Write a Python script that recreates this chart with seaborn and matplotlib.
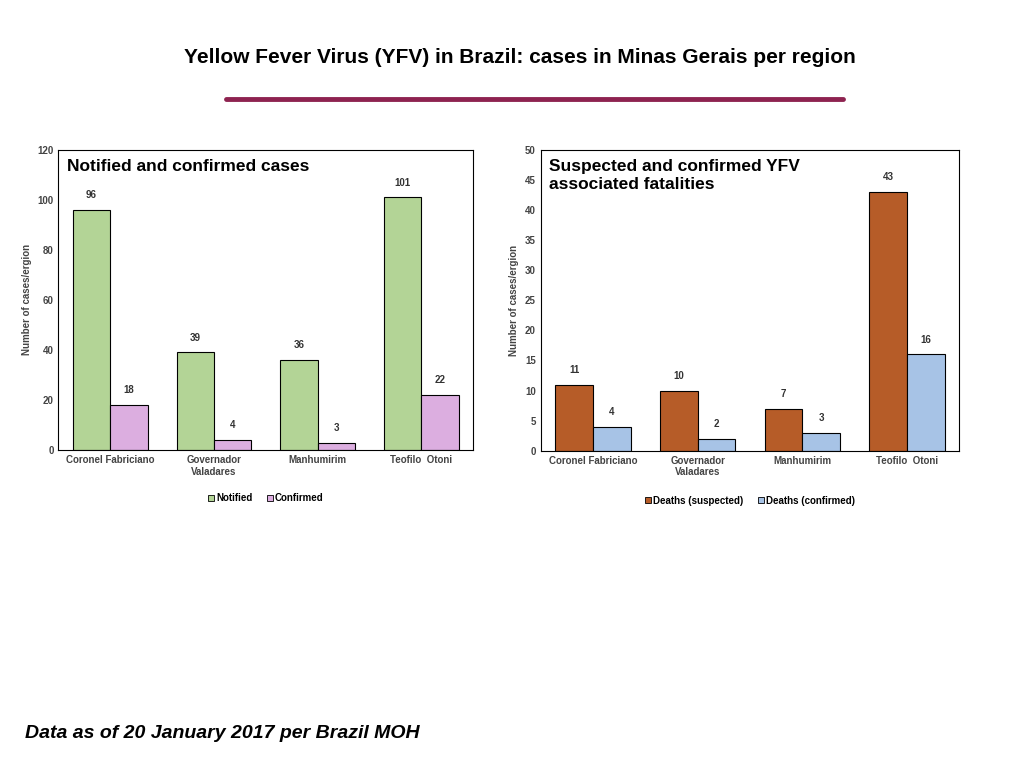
import matplotlib
matplotlib.use("Agg")
import matplotlib.pyplot as plt
import seaborn as sns
import pandas as pd
from matplotlib.patches import Patch

regions = ["Coronel Fabriciano", "Governador\nValadares", "Manhumirim", "Teofilo  Otoni"]
notified = [96, 39, 36, 101]
confirmed = [18, 4, 3, 22]
deaths_suspected = [11, 10, 7, 43]
deaths_confirmed = [4, 2, 3, 16]

sns.set_style("white")
plt.rcParams['font.family'] = ['Liberation Sans', 'DejaVu Sans']
plt.rcParams['text.color'] = 'black'

fig = plt.figure(figsize=(10.24, 7.68), dpi=100)

def panel(rect, s1, s2, n1, n2, c1, c2, ymax, ystep, label, legy):
    ax = fig.add_axes(rect)
    df = pd.DataFrame({"region": regions * 2, "value": s1 + s2,
                       "series": [n1] * 4 + [n2] * 4})
    sns.barplot(data=df, x="region", y="value", hue="series", palette=[c1, c2],
                saturation=1, width=0.72, edgecolor="black", linewidth=0.8, ax=ax,
                legend=False)
    for cont in ax.containers:
        ax.bar_label(cont, padding=7, fontsize=7, fontweight="bold", color="#333333")
    ax.set_ylim(0, ymax)
    ax.set_yticks(range(0, ymax + 1, ystep))
    ax.set_xlabel("")
    ax.set_ylabel("Number of cases/ergion", fontsize=7, fontweight="bold", color="#444444")
    ax.tick_params(axis="both", labelsize=7, length=0, colors="#444444")
    for t in ax.get_xticklabels() + ax.get_yticklabels():
        t.set_fontweight("bold")
    for sp in ax.spines.values():
        sp.set_color("black"); sp.set_linewidth(0.8)
    ax.text(0.02, 0.97, label, transform=ax.transAxes, fontsize=12.5, fontweight="bold",
            va="top", ha="left", linespacing=1.3, color="black")
    handles = [Patch(facecolor=c1, edgecolor="black", linewidth=0.6, label=n1),
               Patch(facecolor=c2, edgecolor="black", linewidth=0.6, label=n2)]
    fig.legend(handles=handles, loc="center", bbox_to_anchor=(rect[0] + rect[2] / 2, legy),
               ncol=2, frameon=False, handlelength=0.6, handleheight=0.6,
               handletextpad=0.2, columnspacing=1.5, prop={"weight": "bold", "size": 7})
    return ax

panel([0.057, 0.414, 0.405, 0.391], notified, confirmed, "Notified", "Confirmed",
      "#b3d496", "#dcaee0", 120, 20, "Notified and confirmed cases", 0.351)
panel([0.528, 0.413, 0.409, 0.392], deaths_suspected, deaths_confirmed,
      "Deaths (suspected)", "Deaths (confirmed)", "#b65c28", "#a7c3e6", 50, 5,
      "Suspected and confirmed YFV\nassociated fatalities", 0.348)

fig.text(0.508, 0.925, "Yellow Fever Virus (YFV) in Brazil: cases in Minas Gerais per region",
         ha="center", va="center", fontsize=15, fontweight="bold", color="black")
fig.add_artist(plt.Line2D([0.221, 0.823], [0.871, 0.871], color="#8e2350", linewidth=3.5))
fig.text(0.024, 0.045, "Data as of 20 January 2017 per Brazil MOH", ha="left", va="center",
         fontsize=14, fontweight="bold", style="italic", color="black")

fig.savefig("out.png", dpi=100)
